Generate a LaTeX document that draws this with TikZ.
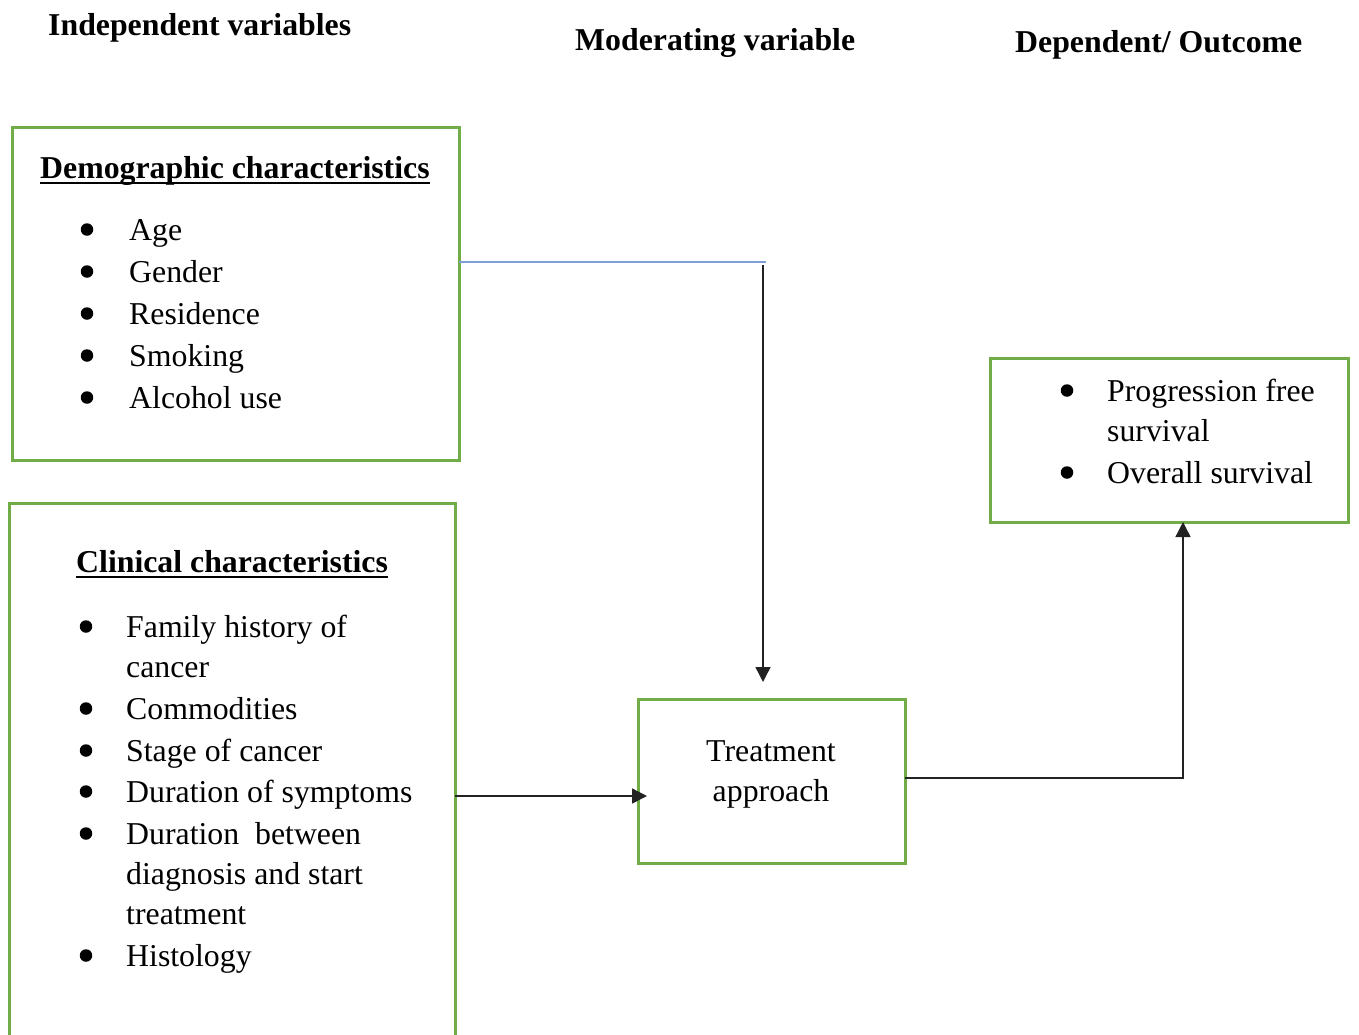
\documentclass[tikz,border=0pt]{standalone}
\usepackage{fontspec}
\setmainfont{Liberation Serif}
\usetikzlibrary{arrows.meta,calc}
\definecolor{boxgreen}{HTML}{70AD47}
\definecolor{lineblue}{HTML}{7F9FD8}
\definecolor{linedark}{HTML}{222222}
\begin{document}
\begin{tikzpicture}[x=1pt,y=-1pt,
  box/.style={draw=boxgreen,line width=3pt,inner sep=0pt,outer sep=0pt,anchor=north west},
  txt/.style={anchor=base west,inner sep=0pt,font=\fontsize{31.8}{38}\selectfont},
  hd/.style={anchor=base west,inner sep=0pt,font=\fontsize{31.8}{38}\selectfont\bfseries},
  bul/.style={circle,fill=black,draw=none,inner sep=0pt,minimum size=12.5pt,yshift=10.5pt},
  uline/.style={line width=2.8pt},
  conn/.style={draw=linedark,line width=1.4pt},
  arr/.style={conn,-{Triangle[length=15pt,width=15pt]}},
  blueconn/.style={draw=lineblue,line width=2pt}]
\useasboundingbox (0,0) rectangle (1359,1034);

% headers
\node[hd] (h1) at (48,35) {Independent variables};
\node[hd] (h2) at (575,50) {Moderating variable};
\node[hd] (h3) at (1015,52) {Dependent/ Outcome};

% boxes
\node[box,minimum width=447pt,minimum height=333pt] (demo) at (12,127) {};
\node[box,minimum width=446pt,minimum height=560pt] (clin) at (9,503) {};
\node[box,minimum width=267pt,minimum height=164pt] (treat) at (638,699) {};
\node[box,minimum width=358pt,minimum height=164pt] (outc) at (990,358) {};

% demographic text
\node[hd] (dh) at (40,178) {Demographic characteristics};
\draw[uline] ([yshift=-5pt]dh.base west) -- ([yshift=-5pt]dh.base east);
\foreach \t [count=\i] in {Age,Gender,Residence,Smoking,Alcohol use}{
  \node[bul] (db\i) at (87,{240+42*(\i-1)}) {};
  \node[txt] (dt\i) at (129,{240+42*(\i-1)}) {\t};
}

% clinical text
\node[hd] (ch) at (76,572) {Clinical characteristics};
\draw[uline] ([yshift=-5pt]ch.base west) -- ([yshift=-5pt]ch.base east);
\node[bul] (cb1) at (86,637) {};
\node[txt] (ct1a) at (126,637) {Family history of};
\node[txt] (ct1b) at (126,677) {cancer};
\node[bul] (cb2) at (86,719) {};
\node[txt] (ct2) at (126,719) {Commodities};
\node[bul] (cb3) at (86,761) {};
\node[txt] (ct3) at (126,761) {Stage of cancer};
\node[bul] (cb4) at (86,802) {};
\node[txt] (ct4) at (126,802) {Duration of symptoms};
\node[bul] (cb5) at (86,844) {};
\node[txt] (ct5a) at (126,844) {Duration\ \ between};
\node[txt] (ct5b) at (126,884) {diagnosis and start};
\node[txt] (ct5c) at (126,924) {treatment};
\node[bul] (cb6) at (86,966) {};
\node[txt] (ct6) at (126,966) {Histology};

% treatment text
\node[anchor=base,inner sep=0pt,font=\fontsize{31.8}{38}\selectfont] (tt1) at (771,761) {Treatment};
\node[anchor=base,inner sep=0pt,font=\fontsize{31.8}{38}\selectfont] (tt2) at (771,801) {approach};

% outcome text
\node[bul] (ob1) at (1067,401) {};
\node[txt] (ot1a) at (1107,401) {Progression free};
\node[txt] (ot1b) at (1107,441) {survival};
\node[bul] (ob2) at (1067,483) {};
\node[txt] (ot2) at (1107,483) {Overall survival};

% connectors
\coordinate (bend1) at (766,262);
\coordinate (vstart) at (763,265);
\coordinate (vtip) at (763,682);
\coordinate (ctip) at (647,796);
\coordinate (corner) at (1183,778);
\draw[blueconn] (demo.east |- bend1) -- (bend1);
\draw[arr] (vstart) -- (vtip);
\draw[arr] (clin.east |- ctip) -- (ctip);
\draw[arr] (treat.east |- corner) -- (corner) -- (corner |- outc.south);
\end{tikzpicture}
\end{document}
